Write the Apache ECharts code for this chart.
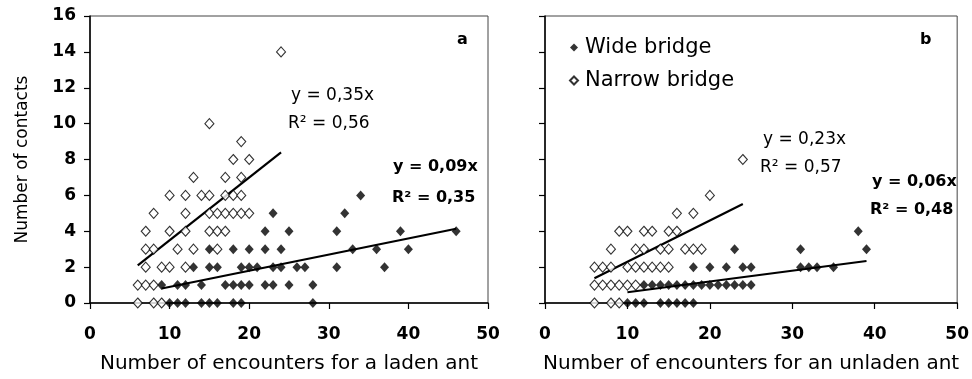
<!DOCTYPE html>
<html>
<head>
<meta charset="utf-8">
<script src="https://cdn.jsdelivr.net/npm/echarts@6/dist/echarts.min.js"></script>
<style>html,body{margin:0;padding:0;background:#fff}#c{width:972px;height:379px}</style>
</head>
<body>
<div id="c"></div>
<script>
// ---- data: [encounters, contacts] ----
const ladenWide = [
  [10,0],[11,0],[12,0],[14,0],[15,0],[16,0],[18,0],[19,0],[28,0],
  [9,1],[11,1],[12,1],[14,1],[17,1],[18,1],[19,1],[20,1],[22,1],[23,1],[25,1],[28,1],
  [13,2],[15,2],[16,2],[19,2],[20,2],[21,2],[23,2],[24,2],[26,2],[27,2],[31,2],[37,2],
  [15,3],[18,3],[20,3],[22,3],[24,3],[33,3],[36,3],[40,3],
  [22,4],[25,4],[31,4],[39,4],[46,4],
  [23,5],[32,5],
  [34,6]
];
const ladenNarrow = [
  [6,0],[8,0],[9,0],
  [6,1],[7,1],[8,1],
  [7,2],[9,2],[10,2],[12,2],
  [7,3],[8,3],[11,3],[13,3],[16,3],
  [7,4],[10,4],[12,4],[15,4],[16,4],[17,4],
  [8,5],[12,5],[15,5],[16,5],[17,5],[18,5],[19,5],[20,5],
  [10,6],[12,6],[14,6],[15,6],[17,6],[18,6],[19,6],
  [13,7],[17,7],[19,7],
  [18,8],[20,8],
  [19,9],
  [15,10],
  [24,14]
];
const unladenWide = [
  [10,0],[11,0],[12,0],[14,0],[15,0],[16,0],[17,0],[18,0],
  [12,1],[13,1],[14,1],[15,1],[16,1],[17,1],[18,1],[19,1],[20,1],[21,1],[22,1],[23,1],[24,1],[25,1],
  [18,2],[20,2],[22,2],[24,2],[25,2],[31,2],[32,2],[33,2],[35,2],
  [23,3],[31,3],[39,3],
  [38,4]
];
const unladenNarrow = [
  [6,0],[8,0],[9,0],
  [6,1],[7,1],[8,1],[9,1],[10,1],[11,1],
  [6,2],[7,2],[8,2],[10,2],[11,2],[12,2],[13,2],[14,2],[15,2],
  [8,3],[11,3],[12,3],[14,3],[15,3],[17,3],[18,3],[19,3],
  [9,4],[10,4],[12,4],[13,4],[15,4],[16,4],
  [16,5],[18,5],
  [20,6],
  [24,8]
];
// regression fits (slope through origin) and the x-range each line spans
const slopes = { ladenWide: 0.09, ladenNarrow: 0.35, unladenWide: 0.06, unladenNarrow: 0.23 };
const fitRange = { ladenWide: [9,46], ladenNarrow: [6,24], unladenWide: [10,39], unladenNarrow: [6,24] };
const xTicks = [0,10,20,30,40,50];
const yTicks = [0,2,4,6,8,10,12,14,16];
const seriesNames = ['Wide bridge','Narrow bridge'];

const FONT = 'DejaVu Sans';
function fitLine(key){
  const r = fitRange[key], s = slopes[key];
  return [[r[0], +(s*r[0]).toFixed(3)], [r[1], +(s*r[1]).toFixed(3)]];
}
function xAxis(idx, name){
  return {
    type:'value', gridIndex: idx, min: xTicks[0], max: xTicks[xTicks.length-1], interval: 10,
    name: name, nameLocation:'middle', nameGap: 51,
    nameTextStyle:{fontFamily:FONT, fontSize:20, color:'#000'},
    axisLine:{show:true, onZero:false, lineStyle:{color:'#000', width:1.5}},
    axisTick:{show:true, inside:false, length:6, lineStyle:{color:'#000', width:1.2}},
    axisLabel:{fontFamily:FONT, fontWeight:'bold', fontSize:17, color:'#000', margin:23},
    splitLine:{show:false}
  };
}
function yAxis(idx, showLabels){
  return {
    type:'value', gridIndex: idx, min: yTicks[0], max: yTicks[yTicks.length-1], interval: 2,
    name: showLabels ? 'Number of contacts' : '', nameLocation:'middle', nameGap: 59,
    nameTextStyle:{fontFamily:FONT, fontSize:17, color:'#000'},
    axisLine:{show:true, onZero:false, lineStyle:{color:'#000', width:1.5}},
    axisTick:{show:true, inside:false, length:6, lineStyle:{color:'#000', width:1.2}},
    axisLabel:{show: showLabels, fontFamily:FONT, fontWeight:'bold', fontSize:17, color:'#000', margin:14},
    splitLine:{show:false}
  };
}
const filled = {color:'#000'};
const open = {color:'#fff', borderColor:'#000', borderWidth:1.1};
function scatter(name, idx, data, style){
  return {type:'scatter', name, xAxisIndex: idx, yAxisIndex: idx, data, symbol:'diamond', symbolSize:[9,10],
          itemStyle: style, z: 3, silent:true};
}
function line(idx, key){
  return {type:'line', xAxisIndex: idx, yAxisIndex: idx, data: fitLine(key), showSymbol:false, symbol:'none',
          lineStyle:{color:'#000', width:2.2}, z: 2, silent:true};
}
function txt(x, y, text, bold, size){
  return {type:'text', x, y, style:{text, fontFamily:FONT, fontSize:size, fontWeight: bold?'bold':'normal',
          fill:'#000', textVerticalAlign:'middle', textAlign:'left'}};
}
const chart = echarts.init(document.getElementById('c'), null, {renderer:'canvas'});
chart.setOption({
  animation:false,
  backgroundColor:'#fff',
  grid:[
    {left:90, right:484, top:16, bottom:73.5, show:true, borderColor:'#444', borderWidth:1, backgroundColor:'transparent'},
    {left:545, right:12, top:16, bottom:73.5, show:true, borderColor:'#444', borderWidth:1, backgroundColor:'transparent'}
  ],
  xAxis:[xAxis(0,'Number of encounters for a laden ant'), xAxis(1,'Number of encounters for an unladen ant')],
  yAxis:[yAxis(0,true), yAxis(1,false)],
  legend:{
    data: seriesNames, orient:'vertical', left:564, top:32, itemWidth:8, itemHeight:8, itemGap:12,
    textStyle:{fontFamily:FONT, fontSize:21, color:'#000', padding:[0,0,0,2]}
  },
  series:[
    scatter(seriesNames[0], 0, ladenWide, filled),
    scatter(seriesNames[1], 0, ladenNarrow, open),
    scatter(seriesNames[0], 1, unladenWide, filled),
    scatter(seriesNames[1], 1, unladenNarrow, open),
    line(0,'ladenWide'), line(0,'ladenNarrow'), line(1,'unladenWide'), line(1,'unladenNarrow')
  ],
  graphic:[
    txt(291, 96, 'y = 0,35x', false, 17),
    txt(288, 124, 'R² = 0,56', false, 17),
    txt(393, 167, 'y = 0,09x', true, 16),
    txt(392, 198, 'R² = 0,35', true, 16),
    txt(763, 140, 'y = 0,23x', false, 17),
    txt(760, 168, 'R² = 0,57', false, 17),
    txt(872, 182, 'y = 0,06x', true, 16),
    txt(870, 210, 'R² = 0,48', true, 16),
    txt(457, 40, 'a', true, 16),
    txt(920, 40, 'b', true, 16)
  ]
});
</script>
</body>
</html>
